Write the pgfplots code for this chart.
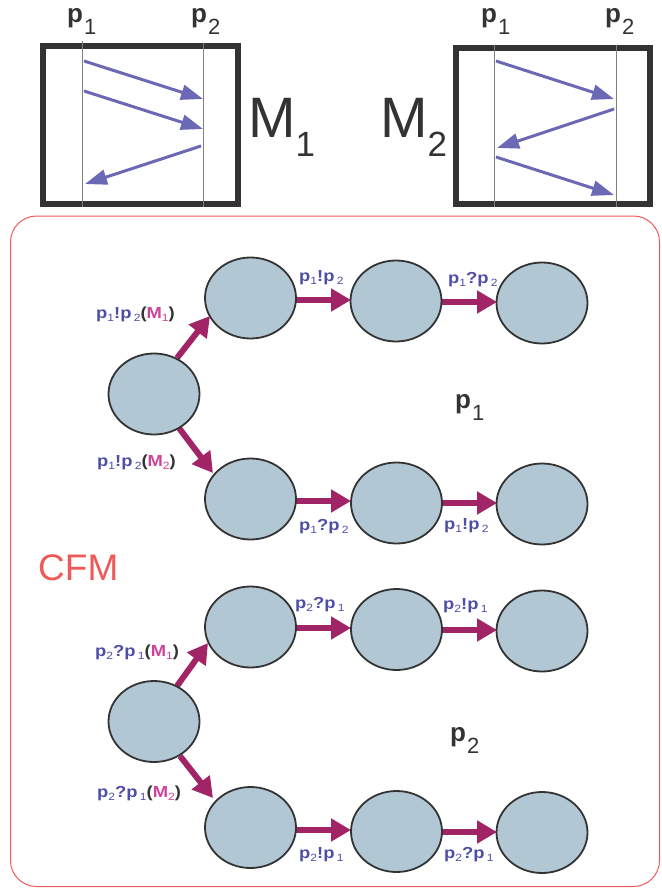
\documentclass[border=0pt]{standalone}
\usepackage{graphicx}
\usepackage{pgfplots}
\pgfplotsset{compat=1.18}
\usetikzlibrary{arrows.meta}
\usepackage{fontspec}
\setmainfont{Liberation Sans}

\definecolor{dk}{HTML}{333333}
\definecolor{msg}{HTML}{6B68B5}
\definecolor{lab}{HTML}{4E4EA6}
\definecolor{arr}{HTML}{A02466}
\definecolor{ellf}{HTML}{B1C8D4}
\definecolor{mg}{HTML}{CC4499}
\definecolor{cfm}{HTML}{EE5A5A}

\pgfdeclareplotmark{ell}{%
  \pgfpathellipse{\pgfpointorigin}{\pgfqpoint{45.5pt}{0pt}}{\pgfqpoint{0pt}{40.5pt}}%
  \pgfusepathqfillstroke}

% big process names: bold p, large lowered index
\newcommand{\tp}[1]{\textbf{p}\kern1pt\raisebox{-12pt}{\fontsize{22}{22}\selectfont #1}}
% edge labels
\newcommand{\sbs}[1]{\raisebox{-3.5pt}{\fontsize{10.5}{10.5}\selectfont #1}}
\newcommand{\lp}[1]{\textbf{p}\sbs{#1}}
\newcommand{\lpp}[1]{\textbf{p}\kern2pt\sbs{#1}}
\newcommand{\mm}[1]{{\color{dk}\textbf{(}}{\color{mg}\textbf{M}\sbs{#1}}{\color{dk}\textbf{)}}}
\newcommand{\el}[1]{\scalebox{1.15}[1]{#1}}

\begin{document}
\begin{tikzpicture}
\begin{axis}[
    width=661pt, height=888pt, scale only axis,
    xmin=0, xmax=661, ymin=0, ymax=888, y dir=reverse,
    hide axis, clip=false,
    marr/.style={arr, line width=6pt, -{Triangle[length=20pt,width=22pt]}},
    barr/.style={msg, line width=3pt, -{Triangle[length=22pt,width=15pt]}},
  ]
% page extent
\addplot[draw=none, forget plot] coordinates {(0,0) (661,888)};

% CFM frame
\addplot[cfm, line width=1pt, rounded corners=26pt] coordinates
  {(335,216) (659.5,216) (659.5,886.5) (10.5,886.5) (10.5,216) (335,216)};

% M1 box
\addplot[dk, line width=6pt, line join=miter] coordinates
  {(43,46) (238,46) (238,204) (43,204) (43,46) (238,46)};
\addplot[gray, line width=0.8pt] coordinates {(82,41) (82,207)};
\addplot[gray, line width=0.8pt] coordinates {(203,43) (203,207)};
\addplot[barr] coordinates {(84,61) (203,99)};
\addplot[barr] coordinates {(84,91) (203,129)};
\addplot[barr] coordinates {(201,146) (85,184)};

% M2 box
\addplot[dk, line width=6pt, line join=miter] coordinates
  {(456,48) (650,48) (650,204) (456,204) (456,48) (650,48)};
\addplot[gray, line width=0.8pt] coordinates {(494,45) (494,207)};
\addplot[gray, line width=0.8pt] coordinates {(616,45) (616,207)};
\addplot[barr] coordinates {(496,61) (614,99)};
\addplot[barr] coordinates {(614,109) (497,148)};
\addplot[barr] coordinates {(496,157) (614,195)};

% transitions p1
\addplot[marr] coordinates {(177,358) (210,316)};
\addplot[marr] coordinates {(179,428) (213,473)};
\addplot[marr] coordinates {(296,300) (351,300)};
\addplot[marr] coordinates {(441,302) (497,302)};
\addplot[marr] coordinates {(296,501) (351,501)};
\addplot[marr] coordinates {(442,503) (497,503)};
% transitions p2
\addplot[marr] coordinates {(177,686) (208,643)};
\addplot[marr] coordinates {(180,756) (213,798)};
\addplot[marr] coordinates {(296,628) (351,628)};
\addplot[marr] coordinates {(442,630) (497,630)};
\addplot[marr] coordinates {(296,830) (351,830)};
\addplot[marr] coordinates {(442,832) (497,832)};

% states
\addplot[only marks, mark=ell, mark options={fill=ellf, draw=dk, line width=1.8pt}] coordinates {
  (154,394) (250.5,298) (396,301) (542,303) (250.5,499) (396.5,503) (542,504)
  (154,721.5) (250.5,627) (396.5,629.5) (542,631) (250.5,827.5) (396.5,831.5) (542,832.5)};

% texts
\begin{scope}[every node/.style={font=\fontsize{26}{26}\selectfont, text=dk, inner sep=0pt, anchor=base west}]
\node at (axis cs:67,23) {\tp{1}};
\node at (axis cs:191,23) {\tp{2}};
\node at (axis cs:481,23) {\tp{1}};
\node at (axis cs:605,23) {\tp{2}};
\node at (axis cs:455,408) {\tp{1}};
\node at (axis cs:450,741) {\tp{2}};
\node[font=\fontsize{57}{57}\selectfont] at (axis cs:248,138) {M\raisebox{-19pt}{\fontsize{35}{35}\selectfont 1}};
\node[font=\fontsize{57}{57}\selectfont] at (axis cs:380,138) {M\raisebox{-19pt}{\fontsize{35}{35}\selectfont 2}};
\node[font=\fontsize{37}{37}\selectfont, text=cfm] at (axis cs:38,580) {CFM};
\end{scope}

\begin{scope}[every node/.style={font=\fontsize{16}{16}\selectfont, text=lab, inner sep=0pt, anchor=base west}]
\node at (axis cs:96,318) {\el{\lp{1}\textbf{!}\lpp{2}\mm{1}}};
\node at (axis cs:97,466) {\el{\lp{1}\textbf{!}\lpp{2}\mm{2}}};
\node at (axis cs:299,281) {\el{\lp{1}\textbf{!}\lpp{2}}};
\node at (axis cs:448,283) {\el{\lp{1}\textbf{?}\lpp{2}}};
\node at (axis cs:299,530) {\el{\lp{1}\textbf{?}\lpp{2}}};
\node at (axis cs:444,529) {\el{\lp{1}\textbf{!}\lpp{2}}};
\node at (axis cs:295,608) {\el{\lp{2}\textbf{?}\lpp{1}}};
\node at (axis cs:443,609) {\el{\lp{2}\textbf{!}\lpp{1}}};
\node at (axis cs:95,656) {\el{\lp{2}\textbf{?}\lpp{1}\mm{1}}};
\node at (axis cs:97,797) {\el{\lp{2}\textbf{?}\lpp{1}\mm{2}}};
\node at (axis cs:299,858) {\el{\lp{2}\textbf{!}\lpp{1}}};
\node at (axis cs:444,858) {\el{\lp{2}\textbf{?}\lpp{1}}};
\end{scope}
\end{axis}
\end{tikzpicture}
\end{document}
